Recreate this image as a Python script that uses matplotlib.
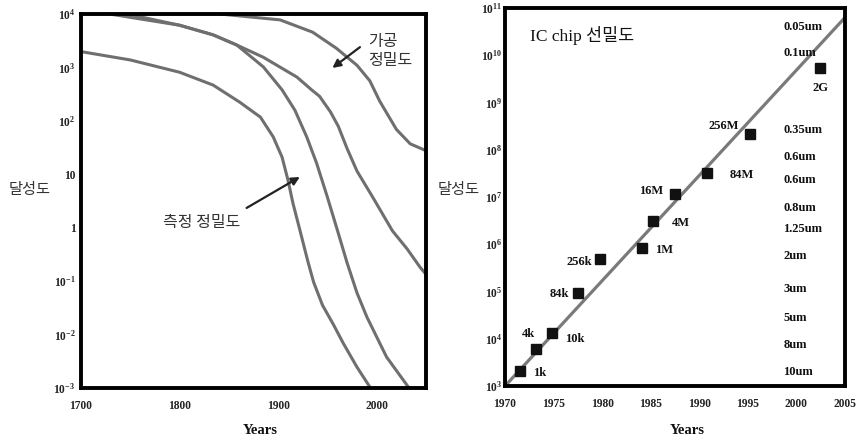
#!/usr/bin/env python3

'''Precision trend (left) and IC chip density (right), log scale.'''

import matplotlib
matplotlib.use('Agg')
import matplotlib.pyplot as plt
import matplotlib.ticker as ticker


# ---- left panel: precision curves (year, log10 value) ----
A_YEARS = [1702, 1750, 1800, 1834, 1861, 1882, 1895, 1904, 1910, 1915, 1922,
           1930, 1936, 1945, 1956, 1966, 1980, 1993]
A_LOGS = [3.29, 3.14, 2.91, 2.67, 2.35, 2.07, 1.70, 1.32, 0.89, 0.46, -0.04,
          -0.62, -1.02, -1.45, -1.81, -2.16, -2.61, -2.98]

B_YEARS = [1729, 1800, 1834, 1858, 1885, 1904, 1917, 1929, 1939, 1950, 1960,
           1970, 1980, 1990, 2010, 2032]
B_LOGS = [4.0, 3.79, 3.61, 3.42, 3.01, 2.58, 2.20, 1.70, 1.21, 0.57, -0.04,
          -0.66, -1.22, -1.67, -2.42, -2.98]

C_YEARS = [1747, 1800, 1834, 1858, 1885, 1919, 1934, 1942, 1953, 1961, 1970,
           1980, 1996, 2016, 2031, 2044, 2049]
C_LOGS = [4.0, 3.79, 3.61, 3.42, 3.19, 2.82, 2.58, 2.46, 2.17, 1.90, 1.48,
          1.06, 0.57, -0.06, -0.40, -0.74, -0.85]

D_YEARS = [1841, 1902, 1935, 1959, 1980, 1993, 2003, 2020, 2034, 2049]
D_LOGS = [4.0, 3.89, 3.66, 3.36, 3.04, 2.75, 2.37, 1.84, 1.57, 1.45]

LEFT_YTICKS = [-3, -2, -1, 0, 1, 2, 3, 4]
LEFT_YLABELS = [r'$\mathbf{10^{-3}}$', r'$\mathbf{10^{-2}}$', r'$\mathbf{10^{-1}}$',
                '1', '10', r'$\mathbf{10^{2}}$', r'$\mathbf{10^{3}}$', r'$\mathbf{10^{4}}$']
LEFT_XTICKS = [1700, 1800, 1900, 2000]

# ---- right panel: DRAM chips ----
CHIP_NAMES = ['1k', '4k', '10k', '84k', '256k', '1M', '4M', '16M', '84M', '256M', '2G']
CHIP_YEARS = [1971.5, 1973.2, 1974.8, 1977.5, 1979.8, 1984.1, 1985.2, 1987.5, 1990.8, 1995.2, 2002.4]
CHIP_LOGS = [3.32, 3.78, 4.12, 4.97, 5.69, 5.92, 6.49, 7.06, 7.51, 8.33, 9.73]

TREND_YEARS = [1970, 2005]
TREND_LOGS = [3.0, 10.8]

LINE_WIDTHS = ['0.05um', '0.1um', '0.35um', '0.6um', '0.6um', '0.8um', '1.25um',
               '2um', '3um', '5um', '8um', '10um']

RIGHT_YTICKS = [3, 4, 5, 6, 7, 8, 9, 10, 11]
RIGHT_XTICKS = [1970, 1975, 1980, 1985, 1990, 1995, 2000, 2005]

# label placement (pixel offsets from marker, alignment)
CHIP_LABEL_POS = [(13, -2, 'left'), (-8, 15, 'center'), (13, -6, 'left'),
                  (-9, -1, 'right'), (-8, -3, 'right'), (13, -2, 'left'),
                  (19, -2, 'left'), (-12, 3, 'right'), (23, -2, 'left'),
                  (-11, 8, 'right'), (1, -20, 'center')]
WIDTH_LABEL_Y = [0.950, 0.881, 0.677, 0.606, 0.545, 0.471, 0.415,
                 0.344, 0.257, 0.180, 0.108, 0.037]

CURVE_COLOR = '#6f6f6f'
TEXT_COLOR = '#333333'
KR_FONT = 'Noto Sans CJK KR'

plt.rcParams['font.family'] = ['Liberation Serif', 'Noto Sans CJK KR']
plt.rcParams['mathtext.fontset'] = 'custom'
plt.rcParams['mathtext.rm'] = 'Liberation Serif'
plt.rcParams['mathtext.bf'] = 'Liberation Serif:bold'


def pow10(vals):
    return [10 ** v for v in vals]


def style_axis(axis):
    for spine in axis.spines.values():
        spine.set_linewidth(2.8)
        spine.set_color('black')
    axis.tick_params(which='both', length=0, labelsize=8.3, colors='#222222')
    axis.yaxis.set_minor_locator(ticker.NullLocator())
    for lab in axis.get_xticklabels() + axis.get_yticklabels():
        lab.set_fontweight('bold')


fig = plt.figure(figsize=(8.58, 4.42), dpi=100)

# ---------------- left ----------------
ax1 = fig.add_axes([0.0944, 0.1222, 0.4021, 0.8461])
for xs, ys in ((A_YEARS, A_LOGS), (B_YEARS, B_LOGS), (C_YEARS, C_LOGS), (D_YEARS, D_LOGS)):
    ax1.plot(xs, pow10(ys), '-', color=CURVE_COLOR, lw=2.2,
             solid_capstyle='round', solid_joinstyle='round')
ax1.set_yscale('log')
ax1.set_xlim(1700, 2050)
ax1.set_ylim(1e-3, 1e4)
ax1.set_xticks(LEFT_XTICKS)
ax1.set_xticklabels([str(v) for v in LEFT_XTICKS])
ax1.set_yticks(pow10(LEFT_YTICKS))
ax1.set_yticklabels(LEFT_YLABELS)
ax1.tick_params(axis='y', pad=4)
ax1.tick_params(axis='x', pad=9)
style_axis(ax1)

ax1.text(1991, 10 ** 3.31, '가공\n정밀도', family=KR_FONT, fontsize=11.5,
         color=TEXT_COLOR, ha='left', va='center', linespacing=1.15)
ax1.annotate('', xy=(1955, 10 ** 2.99), xytext=(1983, 10 ** 3.38),
             arrowprops=dict(arrowstyle='-|>', color='#222222', lw=1.6,
                             mutation_scale=12, shrinkA=0, shrinkB=0))
ax1.text(1822, 10 ** 0.09, '측정 정밀도', family=KR_FONT, fontsize=11.5,
         color=TEXT_COLOR, ha='center', va='center')
ax1.annotate('', xy=(1922, 10 ** 0.95), xytext=(1868, 10 ** 0.37),
             arrowprops=dict(arrowstyle='-|>', color='#222222', lw=1.6,
                             mutation_scale=12, shrinkA=0, shrinkB=0))

# ---------------- right ----------------
ax2 = fig.add_axes([0.5886, 0.1267, 0.3963, 0.8552])
ax2.plot(TREND_YEARS, pow10(TREND_LOGS), '-', color='#7a7a7a', lw=2.3)
ax2.plot(CHIP_YEARS, pow10(CHIP_LOGS), 's', color='#111111', ms=7.5, ls='none')
ax2.set_yscale('log')
ax2.set_xlim(1970, 2005)
ax2.set_ylim(1e3, 1e11)
ax2.set_xticks(RIGHT_XTICKS)
ax2.set_xticklabels([str(v) for v in RIGHT_XTICKS])
ax2.set_yticks(pow10(RIGHT_YTICKS))
ax2.set_yticklabels([r'$\mathbf{10^{%d}}$' % v for v in RIGHT_YTICKS])
ax2.tick_params(axis='y', pad=2)
ax2.tick_params(axis='x', pad=9)
style_axis(ax2)

for name, yr, lg, (dx, dy, ha) in zip(CHIP_NAMES, CHIP_YEARS, CHIP_LOGS, CHIP_LABEL_POS):
    ax2.annotate(name, xy=(yr, 10 ** lg), xytext=(dx, dy), textcoords='offset pixels',
                 ha=ha, va='center', fontsize=9, fontweight='bold', color='#111111')

for name, yfrac in zip(LINE_WIDTHS, WIDTH_LABEL_Y):
    ax2.text(0.818, yfrac, name, transform=ax2.transAxes, ha='left', va='center',
             fontsize=9, fontweight='bold', color='#111111')

ax2.text(0.073, 0.926, 'IC chip 선밀도', transform=ax2.transAxes, ha='left',
         va='center', fontsize=12.5, color='#111111',
         family=['Liberation Serif', KR_FONT])

# ---------------- shared labels ----------------
fig.text(0.035, 0.572, '달성도', family=KR_FONT, fontsize=11, color=TEXT_COLOR,
         ha='center', va='center')
fig.text(0.534, 0.572, '달성도', family=KR_FONT, fontsize=11, color=TEXT_COLOR,
         ha='center', va='center')
fig.text(0.303, 0.027, 'Years', fontsize=10.5, fontweight='bold', color='#111111',
         ha='center', va='center')
fig.text(0.801, 0.025, 'Years', fontsize=10.5, fontweight='bold', color='#111111',
         ha='center', va='center')

fig.savefig('out.png', dpi=100)
